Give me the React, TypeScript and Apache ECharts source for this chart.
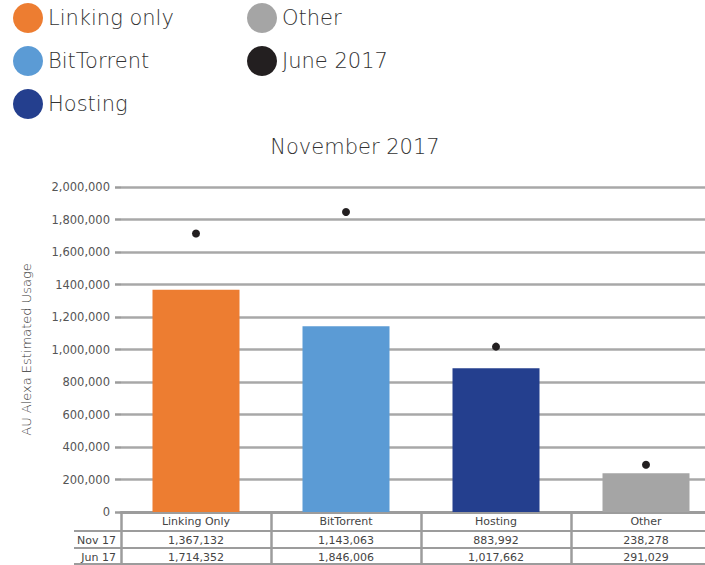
import React, { useEffect, useRef } from "react";
import * as echarts from "echarts";

const categories = ["Linking Only", "BitTorrent", "Hosting", "Other"];
const legendNames = ["Linking only", "BitTorrent", "Hosting", "Other"];
const nov17 = [1367132, 1143063, 883992, 238278];
const jun17 = [1714352, 1846006, 1017662, 291029];
const barColors = ["#ED7D31", "#5B9BD5", "#243F8E", "#A5A5A5"];
const yTickLabels = [
  "0",
  "200,000",
  "400,000",
  "600,000",
  "800,000",
  "1,000,000",
  "1,200,000",
  "1400,000",
  "1,600,000",
  "1,800,000",
  "2,000,000",
];
const rowNames = ["Nov 17", "Jun 17"];
const juneName = "June 2017";
const chartTitle = "November 2017";
const yName = "AU Alexa Estimated Usage";

const fmt = (n: number) => n.toLocaleString("en-US");
const FONT = "DejaVu Sans";
const GRAY = "#9c9c9c";

export default function App() {
  const ref = useRef<HTMLDivElement>(null);
  useEffect(() => {
    document.body.style.margin = "0";
    const chart = echarts.init(ref.current!, undefined, { renderer: "svg" });
    const labelStyle = { color: "#444", fontSize: 11, fontFamily: FONT };
    const legendText = { fontSize: 21, color: "#333", fontFamily: FONT, fontWeight: 200 };
    const barSeries = legendNames.map((name, i) => ({
      type: "bar",
      name,
      stack: "nov",
      xAxisIndex: 0,
      yAxisIndex: 0,
      barWidth: 87,
      itemStyle: { color: barColors[i] },
      data: categories.map((_, j) => (j === i ? nov17[j] : "-")),
    }));
    chart.setOption({
      animation: false,
      textStyle: { fontFamily: FONT },
      title: {
        text: chartTitle,
        left: 350,
        textAlign: "center",
        top: 131,
        textStyle: { fontSize: 21, fontWeight: 200, color: "#333", fontFamily: FONT },
      },
      legend: [
        {
          data: legendNames.slice(0, 3),
          orient: "vertical",
          left: 13,
          top: 3,
          padding: 0,
          itemWidth: 30,
          itemHeight: 30,
          itemGap: 13,
          icon: "circle",
          textStyle: legendText,
        },
        {
          data: [legendNames[3], juneName],
          orient: "vertical",
          left: 247,
          top: 3,
          padding: 0,
          itemWidth: 30,
          itemHeight: 30,
          itemGap: 13,
          icon: "circle",
          textStyle: legendText,
        },
      ],
      grid: { left: 121, right: 0, top: 187, bottom: 53, containLabel: false },
      yAxis: {
        type: "value",
        min: 0,
        max: 2000000,
        interval: 200000,
        name: yName,
        nameLocation: "middle",
        nameGap: 88,
        nameTextStyle: { color: "#333", fontSize: 13, fontFamily: FONT, fontWeight: 300 },
        axisLine: { show: false },
        axisTick: { show: true, length: 6, lineStyle: { color: GRAY, width: 2.5 } },
        axisLabel: {
          color: "#555",
          fontSize: 11.5,
          margin: 11,
          fontFamily: FONT,
          formatter: (v: number) => yTickLabels[Math.round(v / 200000)] ?? "",
        },
        splitLine: { lineStyle: { color: "#a8a8a8", width: 2.5 } },
      },
      xAxis: [
        {
          type: "category",
          data: categories,
          position: "bottom",
          offset: 0,
          axisLine: { lineStyle: { color: GRAY, width: 3 } },
          axisTick: { show: true, length: 52, lineStyle: { color: GRAY, width: 2.5 } },
          axisLabel: { ...labelStyle, margin: 4, interval: 0 },
        },
        {
          type: "category",
          data: nov17.map(fmt),
          position: "bottom",
          offset: 19,
          name: rowNames[0],
          nameLocation: "start",
          nameGap: 5,
          nameTextStyle: { ...labelStyle, verticalAlign: "top", padding: [4, 0, 0, 0] },
          axisLine: { lineStyle: { color: GRAY, width: 2 } },
          axisTick: { show: false },
          axisLabel: { ...labelStyle, margin: 4, interval: 0 },
        },
        {
          type: "category",
          data: jun17.map(fmt),
          position: "bottom",
          offset: 36,
          name: rowNames[1],
          nameLocation: "start",
          nameGap: 5,
          nameTextStyle: { ...labelStyle, verticalAlign: "top", padding: [4, 0, 0, 0] },
          axisLine: { lineStyle: { color: GRAY, width: 2 } },
          axisTick: { show: false },
          axisLabel: { ...labelStyle, margin: 4, interval: 0 },
        },
        {
          type: "category",
          data: categories,
          position: "bottom",
          offset: 52,
          axisLine: { lineStyle: { color: GRAY, width: 2 } },
          axisTick: { show: false },
          axisLabel: { show: false },
        },
      ],
      graphic: [
        { type: "line", shape: { x1: 74, y1: 531, x2: 121, y2: 531 }, style: { stroke: GRAY, lineWidth: 2 } },
        { type: "line", shape: { x1: 74, y1: 548, x2: 121, y2: 548 }, style: { stroke: GRAY, lineWidth: 2 } },
        { type: "line", shape: { x1: 74, y1: 564, x2: 121, y2: 564 }, style: { stroke: GRAY, lineWidth: 2 } },
      ],
      series: [
        ...barSeries,
        {
          type: "scatter",
          name: juneName,
          xAxisIndex: 0,
          yAxisIndex: 0,
          symbolSize: 8,
          itemStyle: { color: "#231F20", opacity: 1 },
          data: jun17,
          z: 5,
        },
      ],
    });
    return () => chart.dispose();
  }, []);
  return (
    <div style={{ width: 705, height: 565, overflow: "hidden", position: "relative" }}>
      <div ref={ref} style={{ width: 721, height: 565 }} />
    </div>
  );
}
